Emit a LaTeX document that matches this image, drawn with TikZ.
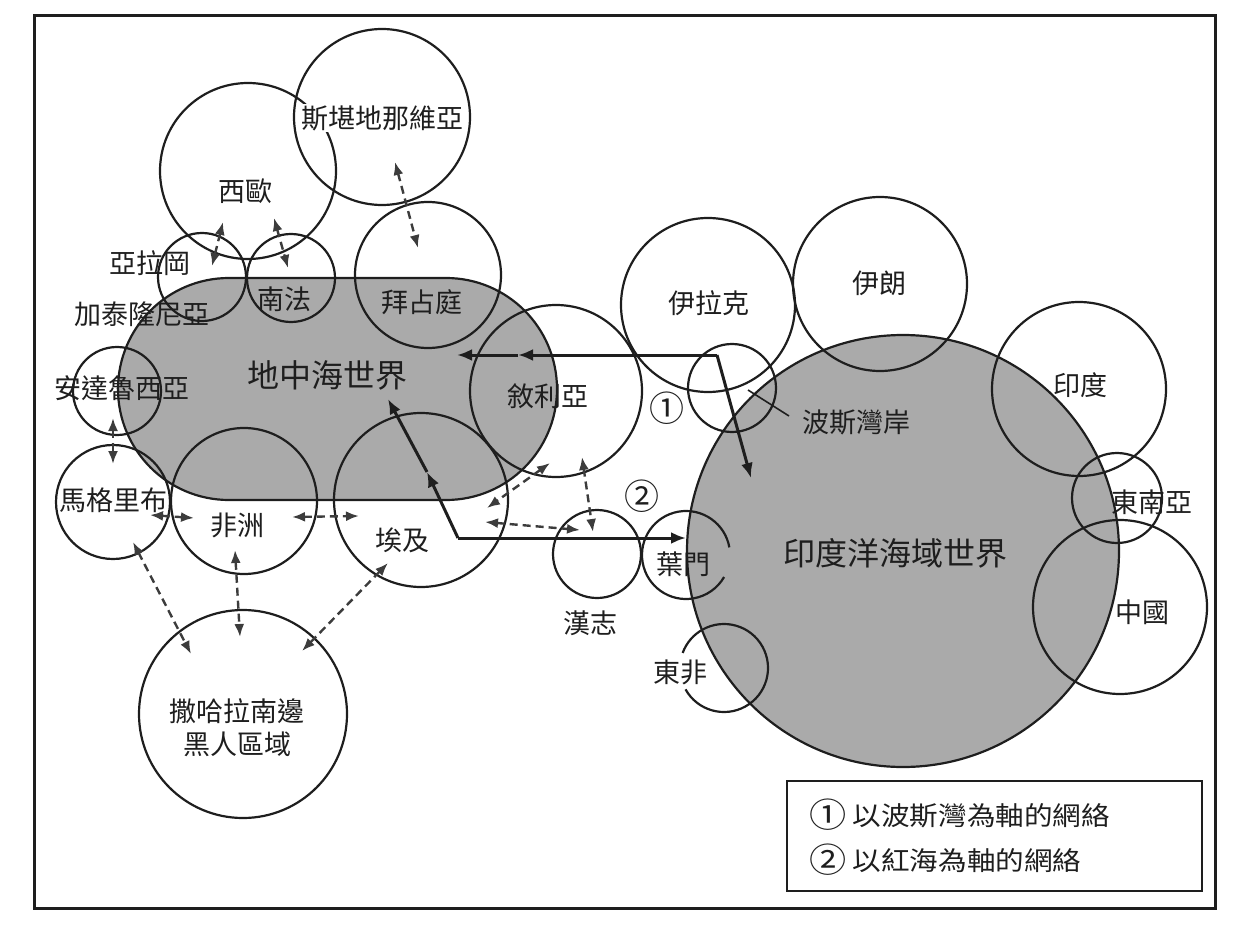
\documentclass[tikz,border=0pt]{standalone}
\usepackage{fontspec}
\setmainfont{Noto Sans CJK TC}
\usetikzlibrary{arrows.meta}
\definecolor{ink}{RGB}{30,30,30}
\definecolor{dashink}{RGB}{60,60,60}
\definecolor{seagray}{RGB}{170,170,170}
\newcommand{\circnum}[1]{\raisebox{-0.08em}{\scalebox{1.3}{#1}}}
\begin{document}
\begin{tikzpicture}[x=1pt,y=-1pt,
  region/.style={circle,draw=ink,line width=2.2pt,inner sep=0pt,minimum size=#1},
  world/.style={fill=seagray,draw=ink,line width=2.2pt,inner sep=0pt},
  arcline/.style={draw=ink,line width=2.2pt},
  lbl/.style={font=\fontsize{27pt}{33pt}\selectfont,text=ink,inner sep=1pt},
  numlbl/.style={font=\fontsize{35pt}{38pt}\selectfont,text=ink,inner sep=1pt},
  biglbl/.style={font=\fontsize{32pt}{36pt}\selectfont,text=ink,inner sep=1pt},
  leglbl/.style={font=\fontsize{26pt}{30pt}\selectfont,text=ink,inner sep=0pt,anchor=west},
  route/.style={draw=ink,line width=3pt,-{Latex[length=15pt,width=12pt]}},
  link/.style={draw=dashink,line width=2.4pt,dash pattern=on 8pt off 5pt,
    {Latex[length=13pt,width=10pt]}-{Latex[length=13pt,width=10pt]}},
]
\useasboundingbox (0,0) rectangle (1250,925);

% outer frame
\draw[draw=ink,line width=3pt] (34,16) rectangle (1215,908);

% the two shaded worlds
\node[world,rectangle,rounded corners=111pt,minimum width=439pt,minimum height=222pt] (med) at (337.5,389) {};
\node[world,circle,minimum size=432pt] (ocean) at (903,551) {};

% regions around the Mediterranean
\node[region=176pt] (weu) at (248,171) {};
\node[lbl,fill=white] (scan-l) at (382,118) {斯堪地那維亞};
\node[region=176pt] (scan) at (382,117) {};
\node[region=88pt] (arag) at (202,277) {};
\node[region=88pt] (sfr) at (291,278) {};
\node[region=146pt] (byz) at (428,275) {};
\node[region=172pt] (syria) at (556,391) {};
\node[region=88pt] (andal) at (117,391) {};
\node[region=114pt] (magh) at (113,502) {};
\node[region=146pt] (afr) at (244,501) {};
\node[region=174pt] (egypt) at (421,500) {};
\node[region=208pt] (sahara) at (243,714) {};
\node[region=88pt] (hejaz) at (597,554) {};

% regions around the Indian Ocean
\node[region=174pt] (iraq) at (708,305) {};
\node[region=174pt] (iran) at (880,284) {};
\node[region=88pt] (gulf) at (732,388) {};
\node[region=174pt] (india) at (1079,389) {};
\node[region=90pt] (seasia) at (1117,498) {};
\node[region=174pt] (china) at (1120,607) {};
\coordinate (yemen) at (686,555);
\coordinate (eafr) at (724,668);
\draw[arcline] ([shift={(10:44pt)}]yemen) arc[start angle=10,end angle=330,radius=44pt];
\draw[arcline] ([shift={(209:44pt)}]eafr) arc[start angle=209,end angle=520,radius=44pt];

% labels
\node[lbl] (weu-l) at (245,191) {西歐};
\node[lbl] (arag-l) at (150,263) {亞拉岡};
\node[lbl] (cat-l) at (142,314) {加泰隆尼亞};
\node[lbl] (sfr-l) at (284,299) {南法};
\node[lbl] (byz-l) at (422,302) {拜占庭};
\node[biglbl] (med-l) at (327,375) {地中海世界};
\node[lbl] (andal-l) at (122,388) {安達魯西亞};
\node[lbl] (syria-l) at (548,396) {敘利亞};
\node[lbl] (magh-l) at (113,500) {馬格里布};
\node[lbl] (afr-l) at (237,525) {非洲};
\node[lbl] (egypt-l) at (402,540) {埃及};
\node[lbl,align=center] (sahara-l) at (237,728) {撒哈拉南邊\\黑人區域};
\node[lbl] (hejaz-l) at (590,623) {漢志};
\node[lbl] (yemen-l) at (683,564) {葉門};
\node[lbl] (eafr-l) at (680,672) {東非};
\node[lbl] (iraq-l) at (709,303) {伊拉克};
\node[lbl] (iran-l) at (879,283) {伊朗};
\node[lbl] (gulf-l) at (856,422) {波斯灣岸};
\node[lbl] (india-l) at (1080,385) {印度};
\node[lbl] (seasia-l) at (1152,502) {東南亞};
\node[lbl] (china-l) at (1142,612) {中國};
\node[biglbl] (ocean-l) at (895,553) {印度洋海域世界};
\node[numlbl] (n1) at (667,408) {①};
\node[numlbl] (n2) at (642,496) {②};

% leader from the gulf circle to its label
\coordinate (gulf-tick) at (748,390);
\coordinate (gulf-end) at (789,416);
\draw[draw=ink,line width=1.6pt] (gulf-tick) -- (gulf-end);

% route 1: Persian Gulf axis
\coordinate (r1corner) at (717,355);
\coordinate (r1mid) at (518,355);
\coordinate (r1west) at (457,355);
\coordinate (r1south) at (751,478);
\draw[route] (r1corner) -- (r1mid);
\draw[route] (r1mid) -- (r1west);
\draw[route] (r1corner) -- (r1south);

% route 2: Red Sea axis
\coordinate (r2corner) at (458,538);
\coordinate (r2east) at (686,538);
\coordinate (r2mid) at (427,472);
\coordinate (r2nw) at (388,399);
\draw[route] (r2corner) -- (r2east);
\draw[route] (r2corner) -- (r2mid);
\draw[route] (r2mid) -- (r2nw);

% exchanges between neighbouring regions
\coordinate (d1a) at (223,222); \coordinate (d1b) at (212,266);
\coordinate (d2a) at (274,218); \coordinate (d2b) at (288,268);
\coordinate (d3a) at (395,162); \coordinate (d3b) at (418,248);
\coordinate (d4a) at (113,418); \coordinate (d4b) at (113,464);
\coordinate (d5a) at (150,515); \coordinate (d5b) at (194,518);
\coordinate (d6a) at (292,517); \coordinate (d6b) at (359,516);
\coordinate (d7a) at (133,542); \coordinate (d7b) at (191,654);
\coordinate (d8a) at (235,550); \coordinate (d8b) at (240,637);
\coordinate (d9a) at (388,563); \coordinate (d9b) at (302,651);
\coordinate (d10a) at (550,463); \coordinate (d10b) at (487,508);
\coordinate (d11a) at (485,522); \coordinate (d11b) at (580,530);
\coordinate (d12a) at (582,457); \coordinate (d12b) at (593,532);
\draw[link] (d1a) -- (d1b);
\draw[link] (d2a) -- (d2b);
\draw[link] (d3a) -- (d3b);
\draw[link] (d4a) -- (d4b);
\draw[link] (d5a) -- (d5b);
\draw[link] (d6a) -- (d6b);
\draw[link] (d7a) -- (d7b);
\draw[link] (d8a) -- (d8b);
\draw[link] (d9a) -- (d9b);
\draw[link] (d10a) -- (d10b);
\draw[link] (d11a) -- (d11b);
\draw[link] (d12a) -- (d12b);

% legend
\node[draw=ink,line width=2.5pt,minimum width=415pt,minimum height=110pt,inner sep=0pt] (legend) at (994.5,836) {};
\node[leglbl] (leg1) at (809,815) {\scalebox{1.1}[1]{\circnum{①} 以波斯灣為軸的網絡}};
\node[leglbl] (leg2) at (809,860) {\scalebox{1.1}[1]{\circnum{②} 以紅海為軸的網絡}};
\end{tikzpicture}
\end{document}
